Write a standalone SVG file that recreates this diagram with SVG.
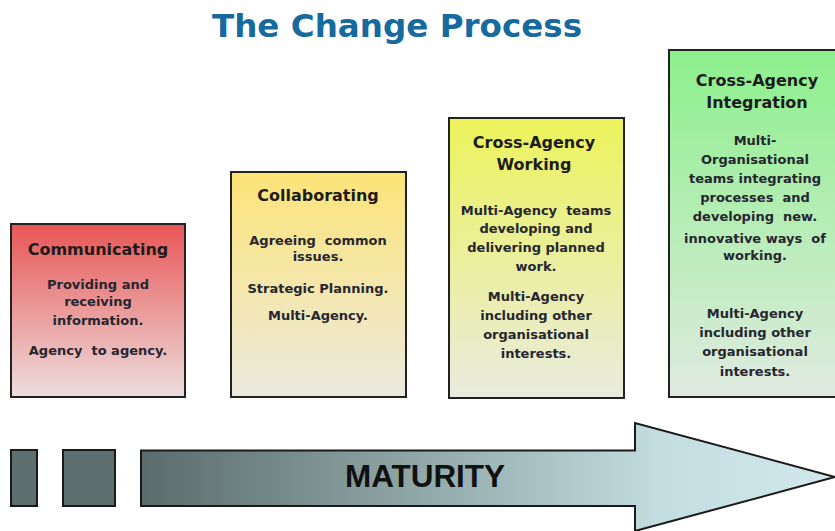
<svg xmlns="http://www.w3.org/2000/svg" width="835" height="531" viewBox="0 0 835 531" xml:space="preserve">
<defs>
<linearGradient id="gRed" x1="0" y1="0" x2="0" y2="1"><stop offset="0" stop-color="#e85656"/><stop offset="1" stop-color="#ecdedd"/></linearGradient>
<linearGradient id="gYellow" x1="0" y1="0" x2="0" y2="1"><stop offset="0" stop-color="#fde477"/><stop offset="1" stop-color="#ebe9df"/></linearGradient>
<linearGradient id="gLime" x1="0" y1="0" x2="0" y2="1"><stop offset="0" stop-color="#ecf35a"/><stop offset="1" stop-color="#e9ebdf"/></linearGradient>
<linearGradient id="gGreen" x1="0" y1="0" x2="0" y2="1"><stop offset="0" stop-color="#8cf08c"/><stop offset="1" stop-color="#e0eae0"/></linearGradient>
<linearGradient id="gArrow" gradientUnits="userSpaceOnUse" x1="140" y1="0" x2="835" y2="0"><stop offset="0" stop-color="#5b6b6b"/><stop offset="0.45" stop-color="#97afb0"/><stop offset="0.75" stop-color="#c3dde0"/><stop offset="1" stop-color="#d2e9ec"/></linearGradient>
<style>
.box{stroke:#222;stroke-width:2}
.head{font-family:"DejaVu Sans",Verdana,sans-serif;font-weight:bold;font-size:16px;fill:#1c1c1c;text-anchor:middle}
.body{font-family:"DejaVu Sans",Verdana,sans-serif;font-weight:bold;font-size:13px;fill:#262630;text-anchor:middle;white-space:pre}
.blk{fill:#5d6e6e;stroke:#1a1a1a;stroke-width:2}
</style>
</defs>
<rect width="835" height="531" fill="#ffffff"/>
<text x="397" y="37" font-family="'DejaVu Sans',Verdana,sans-serif" font-weight="bold" font-size="32" fill="#176a9e" text-anchor="middle" textLength="370" lengthAdjust="spacingAndGlyphs">The Change Process</text>
<g id="communicating">
<rect class="box" x="11" y="224" width="174" height="173" fill="url(#gRed)"/>
<text class="head" x="98" y="255">Communicating</text>
<text class="body" x="98" y="289">Providing and</text>
<text class="body" x="98" y="306">receiving</text>
<text class="body" x="98" y="325">information.</text>
<text class="body" x="98" y="355">Agency  to agency.</text>
</g>
<g id="collaborating">
<rect class="box" x="231" y="172" width="175" height="225" fill="url(#gYellow)"/>
<text class="head" x="318" y="201">Collaborating</text>
<text class="body" x="318" y="245">Agreeing  common</text>
<text class="body" x="318" y="261">issues.</text>
<text class="body" x="318" y="293">Strategic Planning.</text>
<text class="body" x="318" y="320">Multi-Agency.</text>
</g>
<g id="cross-agency-working">
<rect class="box" x="449" y="118" width="175" height="280" fill="url(#gLime)"/>
<text class="head" x="534" y="148">Cross-Agency</text>
<text class="head" x="534" y="170">Working</text>
<text class="body" x="536" y="215">Multi-Agency  teams</text>
<text class="body" x="536" y="233">developing and</text>
<text class="body" x="536" y="252">delivering planned</text>
<text class="body" x="536" y="271">work.</text>
<text class="body" x="536" y="301">Multi-Agency</text>
<text class="body" x="536" y="320">including other</text>
<text class="body" x="536" y="339">organisational</text>
<text class="body" x="536" y="358">interests.</text>
</g>
<g id="cross-agency-integration">
<rect class="box" x="669" y="50" width="175" height="347" fill="url(#gGreen)"/>
<text class="head" x="757" y="86">Cross-Agency</text>
<text class="head" x="757" y="108">Integration</text>
<text class="body" x="755" y="145">Multi-</text>
<text class="body" x="755" y="164">Organisational</text>
<text class="body" x="755" y="183">teams integrating</text>
<text class="body" x="755" y="202">processes  and</text>
<text class="body" x="755" y="221">developing  new.</text>
<text class="body" x="755" y="243">innovative ways  of</text>
<text class="body" x="755" y="260">working.</text>
<text class="body" x="755" y="318">Multi-Agency</text>
<text class="body" x="755" y="337">including other</text>
<text class="body" x="755" y="356">organisational</text>
<text class="body" x="755" y="376">interests.</text>
</g>
<g id="maturity">
<rect class="blk" x="11" y="450" width="26" height="56"/>
<rect class="blk" x="63" y="450" width="52" height="56"/>
<polygon points="141,450.5 635,450.5 635,423 835,477 635,531 635,506 141,506" fill="url(#gArrow)" stroke="#1a1a1a" stroke-width="2" stroke-linejoin="miter"/>
<text x="425" y="487" font-family="'Liberation Sans',Arial,sans-serif" font-weight="bold" font-size="32" fill="#111" text-anchor="middle" textLength="160" lengthAdjust="spacingAndGlyphs">MATURITY</text>
</g>
</svg>
